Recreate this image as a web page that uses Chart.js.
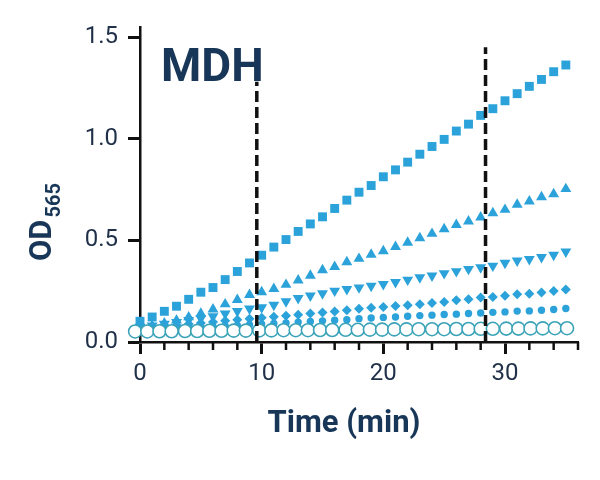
<!DOCTYPE html>
<html lang="en">
<head>
<meta charset="UTF-8">
<title>MDH OD565</title>
<script src="https://cdn.jsdelivr.net/npm/chart.js"></script>
<style>
  html, body { margin: 0; padding: 0; background: #fff; }
  #wrap { width: 600px; height: 480px; }
</style>
</head>
<body>
<div id="wrap"><canvas id="myChart" width="600" height="480"></canvas></div>
<script>
// sample times (min)
const minutes = [0,1,2,3,4,5,6,7,8,9,10,11,12,13,14,15,16,17,18,19,20,21,22,23,24,25,26,27,28,29,30,31,32,33,34,35];
const blankMinutes = [-0.4,0.6,1.6,2.6,3.7,4.7,5.7,6.7,7.7,8.7,9.8,10.8,11.8,12.8,13.8,14.8,15.8,16.9,17.9,18.9,19.9,20.9,21.9,22.9,24.0,25.0,26.0,27.0,28.0,29.0,30.1,31.1,32.1,33.1,34.1,35.1];

// OD565 per sample
const odSquare = [0.102,0.123,0.151,0.176,0.210,0.245,0.268,0.307,0.347,0.389,0.427,0.467,0.504,0.544,0.581,0.616,0.657,0.698,0.737,0.770,0.813,0.847,0.885,0.924,0.962,0.997,1.038,1.072,1.115,1.148,1.187,1.222,1.258,1.292,1.330,1.363];
const odTriUp = [0.070,0.080,0.092,0.106,0.122,0.140,0.161,0.186,0.208,0.232,0.246,0.262,0.282,0.303,0.327,0.354,0.370,0.393,0.410,0.430,0.447,0.468,0.489,0.511,0.533,0.556,0.577,0.594,0.613,0.634,0.651,0.676,0.692,0.713,0.728,0.753];
const odTriDown = [0.074,0.081,0.089,0.098,0.107,0.116,0.126,0.139,0.152,0.164,0.170,0.182,0.200,0.216,0.228,0.239,0.252,0.260,0.268,0.276,0.285,0.294,0.306,0.318,0.326,0.338,0.348,0.359,0.367,0.375,0.389,0.400,0.408,0.417,0.428,0.444];
const odDiamond = [0.068,0.073,0.078,0.084,0.089,0.094,0.099,0.104,0.109,0.114,0.119,0.124,0.129,0.134,0.140,0.145,0.150,0.156,0.164,0.169,0.172,0.177,0.181,0.186,0.192,0.197,0.205,0.210,0.219,0.222,0.227,0.235,0.238,0.243,0.251,0.258];
const odDot = [0.062,0.064,0.066,0.069,0.071,0.074,0.076,0.079,0.082,0.085,0.088,0.091,0.094,0.098,0.101,0.104,0.107,0.110,0.115,0.118,0.121,0.123,0.127,0.130,0.132,0.135,0.137,0.140,0.143,0.146,0.148,0.152,0.153,0.156,0.160,0.165];
const odBlank = [0.052,0.052,0.053,0.053,0.054,0.054,0.055,0.055,0.056,0.056,0.057,0.057,0.058,0.058,0.058,0.059,0.059,0.060,0.060,0.061,0.061,0.062,0.062,0.063,0.063,0.063,0.064,0.064,0.065,0.065,0.066,0.066,0.067,0.067,0.068,0.068];

// dashed marker lines
const markerMinutes = [9.6, 28.4];
const markerTops = [1.28, 1.45];

const xMajor = [0, 10, 20, 30];
const xMinor = [2, 4, 6, 8, 12, 14, 16, 18, 22, 24, 26, 28, 32, 34, 36];

const BLUE = '#2ba2d9';
const TEAL = '#3aa3b8';
const NAVY = '#183658';
const TICK = '#1f3048';

function pairs(xs, ys) {
    return xs.map((x, i) => ({ x: x, y: ys[i] }));
}

function markerSet(data, style, radius, order) {
    return {
        data: data,
        showLine: false,
        pointStyle: style,
        pointRadius: radius,
        pointBackgroundColor: BLUE,
        pointBorderColor: BLUE,
        pointBorderWidth: 0,
        clip: false,
        order: order
    };
}

const datasets = [
    markerSet(pairs(minutes, odSquare), 'rect', 6.3, 5),
    markerSet(pairs(minutes, odTriUp), 'triangle', 6.3, 4),
    Object.assign(markerSet(pairs(minutes, odTriDown), 'triangle', 6.3, 3), { pointRotation: 180 }),
    markerSet(pairs(minutes, odDiamond), 'rectRot', 5, 2),
    markerSet(pairs(minutes, odDot), 'circle', 3.7, 1),
    {
        data: pairs(blankMinutes, odBlank),
        showLine: false,
        pointStyle: 'circle',
        pointRadius: 6.5,
        pointBackgroundColor: '#ffffff',
        pointBorderColor: TEAL,
        pointBorderWidth: 1.6,
        clip: false,
        order: 0
    }
];

markerMinutes.forEach((m, i) => {
    datasets.push({
        data: [{ x: m, y: 0 }, { x: m, y: markerTops[i] }],
        showLine: true,
        borderColor: '#111111',
        borderWidth: 3.5,
        borderDash: [11, 5],
        pointRadius: 0,
        clip: false,
        order: -1
    });
});

// minor x ticks and the text labels
const decorPlugin = {
    id: 'decor',
    afterDraw(chart) {
        const ctx = chart.ctx;
        const x = chart.scales.x;
        const area = chart.chartArea;
        ctx.save();
        ctx.strokeStyle = '#111111';
        ctx.lineWidth = 2.5;
        xMinor.forEach(v => {
            const px = x.getPixelForValue(v);
            ctx.beginPath();
            ctx.moveTo(px, area.bottom);
            ctx.lineTo(px, area.bottom + 8);
            ctx.stroke();
        });

        ctx.fillStyle = NAVY;
        ctx.textBaseline = 'alphabetic';
        ctx.textAlign = 'left';
        ctx.font = 'bold 46px Roboto';
        ctx.fillText('MDH', area.left + 21, 81);

        ctx.textAlign = 'center';
        ctx.font = 'bold 31px Roboto';
        ctx.fillText('Time (min)', 344, 432);

        ctx.translate(51, 261);
        ctx.rotate(-Math.PI / 2);
        ctx.textAlign = 'left';
        ctx.font = 'bold 31px Roboto';
        ctx.fillText('OD', 0, 0);
        const w = ctx.measureText('OD').width;
        ctx.font = 'bold 20px Roboto';
        ctx.fillText('565', w + 2, 9);
        ctx.restore();
    }
};

const ctx = document.getElementById('myChart').getContext('2d');
new Chart(ctx, {
    type: 'scatter',
    data: { datasets: datasets },
    options: {
        responsive: false,
        animation: false,
        layout: { padding: { top: 27, right: 22, left: 0, bottom: 0 } },
        plugins: {
            legend: { display: false },
            tooltip: { enabled: false }
        },
        scales: {
            x: {
                type: 'linear',
                min: 0,
                max: 36,
                afterFit: s => { s.height = 138; },
                afterBuildTicks: s => { s.ticks = xMajor.map(v => ({ value: v })); },
                ticks: {
                    autoSkip: false,
                    maxRotation: 0,
                    padding: 6,
                    color: TICK,
                    font: { family: 'Roboto', size: 24 }
                },
                grid: {
                    drawOnChartArea: false,
                    tickLength: 12,
                    tickWidth: 3,
                    tickColor: '#111111'
                },
                border: { color: '#111111', width: 2.5 }
            },
            y: {
                min: 0,
                max: 1.55,
                afterFit: s => { s.width = 140; },
                ticks: {
                    stepSize: 0.5,
                    includeBounds: false,
                    padding: 10,
                    color: TICK,
                    font: { family: 'Roboto', size: 24 },
                    callback: v => v.toFixed(1)
                },
                grid: {
                    drawOnChartArea: false,
                    tickLength: 12,
                    tickWidth: 3,
                    tickColor: '#111111'
                },
                border: { color: '#111111', width: 2.5 }
            }
        }
    },
    plugins: [decorPlugin]
});
</script>
</body>
</html>
